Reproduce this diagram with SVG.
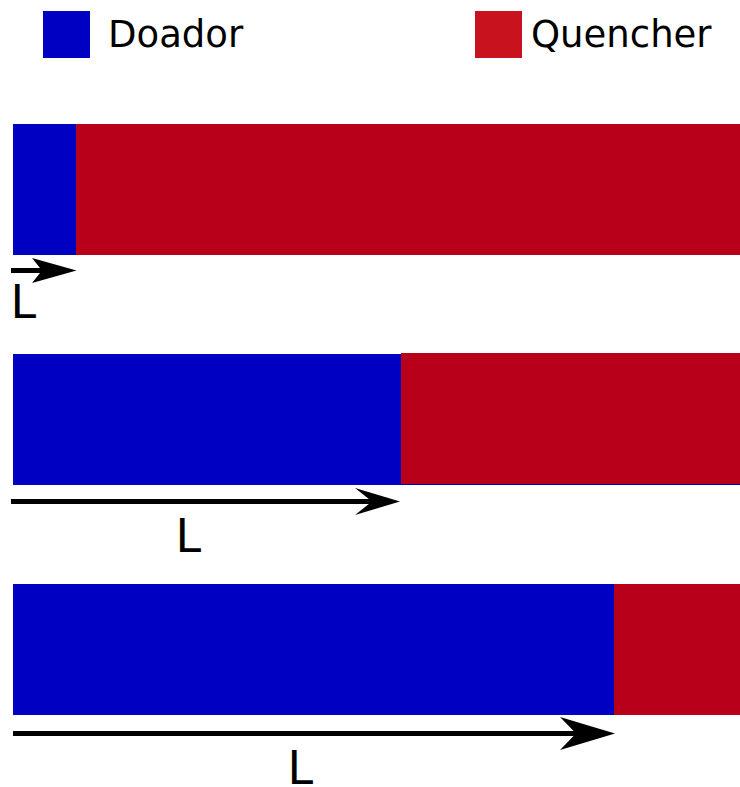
<svg xmlns="http://www.w3.org/2000/svg" width="740" height="787" viewBox="0 0 740 787">
<style>
.blue{fill:#0000c3}
.red{fill:#b9001b}
.lbl{font-family:"DejaVu Sans",sans-serif;fill:#000}
.shaft{stroke:#000;stroke-width:5;fill:none}
.head{fill:#000}
</style>
<rect width="740" height="787" fill="#fff"/>
<g id="legend-doador">
<rect x="43" y="11" width="47" height="47" class="blue"/>
<text x="108" y="47" class="lbl" font-size="37">Doador</text>
</g>
<g id="legend-quencher">
<rect x="475" y="11" width="47" height="47" fill="#c8121e"/>
<text x="531" y="47" class="lbl" font-size="37">Quencher</text>
</g>
<g id="bar1">
<rect x="13" y="124" width="727" height="131" class="red"/>
<rect x="13" y="124" width="63" height="131" class="blue"/>
</g>
<g id="bar2">
<rect x="13" y="354" width="727" height="131" class="blue"/>
<rect x="401" y="353" width="339" height="131" class="red"/>
</g>
<g id="bar3">
<rect x="13" y="584" width="727" height="131" class="red"/>
<rect x="13" y="584" width="601" height="131" class="blue"/>
</g>
<g id="connectors">
<line x1="11" y1="270.5" x2="50" y2="270.5" class="shaft"/>
<path d="M76.5,270.5 L32,258 L42,270.5 L32,283 Z" class="head"/>
<line x1="11" y1="501.5" x2="375" y2="501.5" class="shaft"/>
<path d="M400,501.5 L355,488 L372,501.5 L355,515 Z" class="head"/>
<line x1="13" y1="733.5" x2="578" y2="733.5" class="shaft" stroke-width="6"/>
<path d="M615,733.5 L560,717 L576,733.5 L560,750 Z" class="head"/>
</g>
<g id="labels">
<text x="10.5" y="318" class="lbl" font-size="46">L</text>
<text x="175.5" y="552" class="lbl" font-size="46">L</text>
<text x="287.5" y="784" class="lbl" font-size="46">L</text>
</g>
</svg>
